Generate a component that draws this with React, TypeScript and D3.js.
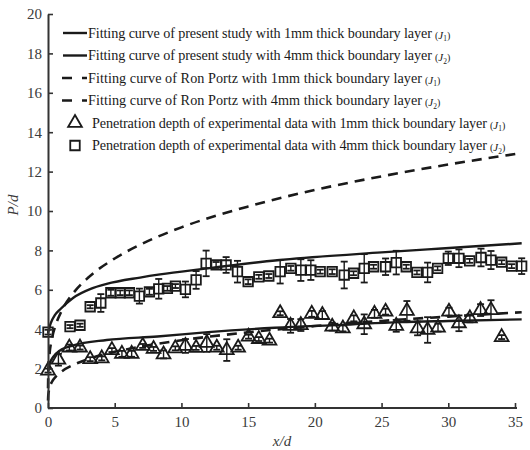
import React, { useEffect, useRef } from "react";
import * as d3 from "d3";

// Axis ticks
const xTicks = [0, 5, 10, 15, 20, 25, 30, 35];
const yTicks = [0, 2, 4, 6, 8, 10, 12, 14, 16, 18, 20];

// Fitting curve, present study, 1 mm boundary layer (J1)
const presentJ1X = [0, 0.15, 0.4, 0.9, 1.9, 4.4, 8.2, 12, 17, 22, 26.4, 30, 35.5];
const presentJ1Y = [1.95, 2.3, 2.6, 2.92, 3.18, 3.45, 3.63, 3.85, 4.07, 4.22, 4.36, 4.42, 4.5];

// Fitting curve, present study, 4 mm boundary layer (J2)
const presentJ2X = [0, 0.2, 0.5, 0.9, 1.9, 3.2, 4.4, 6.9, 8.4, 11.5, 17.2, 25, 29.5, 35.5];
const presentJ2Y = [3.8, 4.3, 4.7, 5.0, 5.6, 6.05, 6.3, 6.62, 6.78, 7.05, 7.5, 7.9, 8.1, 8.36];

// Fitting curve, Ron Portz, 1 mm boundary layer (J1)
const portzJ1X = [0.003, 0.02, 0.1, 0.3, 0.6, 1, 2, 3, 5, 7, 10, 15, 20, 25, 30, 35.5];
const portzJ1Y = [0.38, 0.64, 0.98, 1.33, 1.6, 1.84, 2.22, 2.48, 2.85, 3.12, 3.44, 3.84, 4.16, 4.42, 4.64, 4.86];

// Fitting curve, Ron Portz, 4 mm boundary layer (J2)
const portzJ2X = [0.003, 0.02, 0.1, 0.3, 0.6, 1, 2, 3, 5, 7, 10, 15, 20, 25, 30, 35.5];
const portzJ2Y = [1.0, 1.7, 2.62, 3.53, 4.26, 4.9, 5.92, 6.61, 7.59, 8.32, 9.17, 10.23, 11.07, 11.76, 12.36, 12.94];

// Experimental penetration depth, 1 mm boundary layer (J1)
const expJ1X = [0, 0.78, 1.6, 2.4, 3.16, 4.03, 4.79, 5.54, 6.27, 7.1, 7.91, 8.66, 9.54, 10.3, 11.1, 11.9, 12.65, 13.4, 14.25, 15.03, 15.8, 16.6, 17.4, 18.18, 18.95, 19.77, 20.56, 21.3, 22.1, 22.92, 23.7, 24.47, 25.3, 26.1, 26.9, 27.7, 28.45, 29.23, 30.05, 30.8, 31.62, 32.42, 33.2, 34.0];
const expJ1Y = [1.9, 2.45, 3.07, 3.07, 2.48, 2.52, 2.94, 2.75, 2.75, 3.15, 3.0, 2.72, 3.03, 3.15, 3.05, 3.3, 3.06, 2.94, 3.06, 3.62, 3.5, 3.42, 4.81, 4.17, 4.21, 4.78, 4.72, 4.13, 4.04, 4.55, 4.25, 4.78, 4.89, 4.17, 4.93, 4.04, 3.96, 4.08, 4.89, 4.3, 4.55, 4.97, 4.97, 3.6];
const expJ1Err = [0.1, 0.3, 0.15, 0.1, 0.1, 0.1, 0.1, 0.15, 0.15, 0.1, 0.1, 0.2, 0.1, 0.35, 0.1, 0.45, 0.1, 0.55, 0.1, 0.1, 0.1, 0.1, 0.1, 0.35, 0.3, 0.15, 0.2, 0.2, 0.15, 0.15, 0.5, 0.2, 0.15, 0.3, 0.5, 0.35, 0.65, 0.2, 0.2, 0.4, 0.2, 0.3, 0.5, 0.1];

// Experimental penetration depth, 4 mm boundary layer (J2)
const expJ2X = [0, 1.65, 2.4, 3.16, 3.96, 4.71, 5.41, 6.1, 6.85, 7.6, 8.3, 8.95, 9.55, 10.3, 11.1, 11.85, 12.6, 13.35, 14.2, 15.0, 15.8, 16.55, 17.4, 18.2, 18.95, 19.7, 20.4, 21.3, 22.2, 22.9, 23.7, 24.4, 25.3, 26.1, 26.85, 27.65, 28.45, 29.2, 30.0, 30.8, 31.6, 32.45, 33.2, 34.0, 34.75, 35.5];
const expJ2Y = [3.85, 4.13, 4.2, 5.14, 5.33, 5.85, 5.85, 5.85, 5.68, 5.9, 6.05, 6.07, 6.19, 6.02, 6.5, 7.34, 7.26, 7.26, 6.92, 6.41, 6.66, 6.7, 6.92, 7.09, 7.0, 7.0, 6.92, 6.92, 6.75, 6.84, 7.09, 7.17, 7.17, 7.38, 7.17, 6.88, 6.88, 7.09, 7.6, 7.6, 7.47, 7.64, 7.51, 7.4, 7.2, 7.2];
const expJ2Err = [0.12, 0.08, 0.08, 0.08, 0.45, 0.15, 0.12, 0.12, 0.38, 0.15, 0.5, 0.12, 0.1, 0.4, 0.45, 0.65, 0.15, 0.4, 0.55, 0.12, 0.1, 0.1, 0.6, 0.12, 0.55, 0.5, 0.1, 0.12, 0.68, 0.1, 0.72, 0.1, 0.42, 0.6, 0.1, 0.1, 0.5, 0.1, 0.34, 0.45, 0.1, 0.45, 0.46, 0.1, 0.1, 0.4];

// Legend entries
const legendLabels = [
  "Fitting curve of present study with 1mm thick boundary layer",
  "Fitting curve of present study with 4mm thick boundary layer",
  "Fitting curve of Ron Portz with 1mm thick boundary layer",
  "Fitting curve of Ron Portz with 4mm thick boundary layer",
  "Penetration depth of experimental data with 1mm thick boundary layer",
  "Penetration depth of experimental data with 4mm thick boundary layer",
];
const legendSub = ["1", "2", "1", "2", "1", "2"];
const legendKind = ["solid", "solid", "dash", "dash", "triangle", "square"];
const legendTextEnd = [432, 432, 422, 422, 487, 487];

const W = 530;
const H = 450;
const FONT = "'Liberation Serif', 'Times New Roman', serif";
const INK = "#1a1a1a";
const AXIS = "#333";

export default function App() {
  const xAxisRef = useRef<SVGGElement>(null);
  const yAxisRef = useRef<SVGGElement>(null);

  const x = d3.scaleLinear().domain([0, 35]).range([48, 515]);
  const y = d3.scaleLinear().domain([0, 20]).range([408, 14]);

  useEffect(() => {
    const style = (g: d3.Selection<SVGGElement, unknown, null, undefined>) => {
      g.select(".domain").attr("stroke", AXIS).attr("stroke-width", 2);
      g.selectAll(".tick line").attr("stroke", AXIS).attr("stroke-width", 1.6);
      g.selectAll(".tick text")
        .attr("fill", "#3a3a3a")
        .style("font-family", FONT)
        .style("font-size", "15px");
    };
    if (xAxisRef.current) {
      const g = d3.select(xAxisRef.current);
      g.call(
        d3.axisBottom(x).tickValues(xTicks).tickSize(-5).tickSizeOuter(0).tickPadding(8).tickFormat(d3.format("d"))
      );
      style(g);
      g.select(".domain").attr("d", `M${x(0)},0H${x(35) + 2}`);
    }
    if (yAxisRef.current) {
      const g = d3.select(yAxisRef.current);
      g.call(
        d3.axisLeft(y).tickValues(yTicks).tickSize(-5).tickSizeOuter(0).tickPadding(6).tickFormat(d3.format("d"))
      );
      style(g);
    }
  }, []);

  const line = d3
    .line<[number, number]>()
    .x((d) => x(d[0]))
    .y((d) => y(d[1]))
    .curve(d3.curveMonotoneX);

  const zip = (xs: number[], ys: number[]) => xs.map((v, i) => [v, ys[i]] as [number, number]);

  const tri = d3.symbol().type(d3.symbolTriangle).size(82)();
  const sq = d3.symbol().type(d3.symbolSquare).size(90)();

  const errorBars = (xs: number[], ys: number[], es: number[], key: string) =>
    xs.map((xv, i) => {
      const cx = x(xv);
      const top = y(ys[i] + es[i]);
      const bot = y(ys[i] - es[i]);
      return (
        <g key={`${key}${i}`} stroke={INK} strokeWidth={1.4}>
          <line x1={cx} x2={cx} y1={top} y2={bot} />
          <line x1={cx - 3.5} x2={cx + 3.5} y1={top} y2={top} strokeWidth={1.8} />
          <line x1={cx - 3.5} x2={cx + 3.5} y1={bot} y2={bot} strokeWidth={1.8} />
        </g>
      );
    });

  const rowY = (i: number) => 33 + i * 22.5;

  return (
    <svg
      width={W}
      height={H}
      style={{ position: "absolute", left: 0, top: 0, background: "#fff" }}
      fontFamily={FONT}
    >
      <rect width={W} height={H} fill="#fff" />

      {/* fitted curves */}
      <path d={line(zip(presentJ1X, presentJ1Y)) || ""} fill="none" stroke={INK} strokeWidth={2.4} />
      <path d={line(zip(presentJ2X, presentJ2Y)) || ""} fill="none" stroke={INK} strokeWidth={2.4} />
      <path d={line(zip(portzJ1X, portzJ1Y)) || ""} fill="none" stroke={INK} strokeWidth={2.6} strokeDasharray="10,7" />
      <path d={line(zip(portzJ2X, portzJ2Y)) || ""} fill="none" stroke={INK} strokeWidth={2.6} strokeDasharray="10,7" />

      {/* experimental points with error bars */}
      {errorBars(expJ1X, expJ1Y, expJ1Err, "e1-")}
      {errorBars(expJ2X, expJ2Y, expJ2Err, "e2-")}
      {expJ1X.map((xv, i) => (
        <path
          key={`t${i}`}
          d={tri || ""}
          transform={`translate(${x(xv)},${y(expJ1Y[i])})`}
          fill="none"
          stroke={INK}
          strokeWidth={1.8}
        />
      ))}
      {expJ2X.map((xv, i) => (
        <path
          key={`s${i}`}
          d={sq || ""}
          transform={`translate(${x(xv)},${y(expJ2Y[i])})`}
          fill="none"
          stroke={INK}
          strokeWidth={1.8}
        />
      ))}

      {/* axes */}
      <g ref={xAxisRef} transform={`translate(0,${y(0)})`} />
      <g ref={yAxisRef} transform={`translate(${x(0)},0)`} />

      {/* axis titles */}
      <text x={282} y={446} textAnchor="middle" fontStyle="italic" fontSize={15} fill="#3a3a3a">
        x/d
      </text>
      <text
        transform={`translate(18,205) rotate(-90)`}
        textAnchor="middle"
        fontStyle="italic"
        fontSize={15}
        fill="#3a3a3a"
      >
        P/d
      </text>

      {/* legend */}
      {legendLabels.map((label, i) => {
        const ry = rowY(i);
        const kind = legendKind[i];
        const isMarker = kind === "triangle" || kind === "square";
        const tx = isMarker ? 92 : 88;
        const tEnd = legendTextEnd[i];
        return (
          <g key={`lg${i}`}>
            {kind === "solid" && (
              <line x1={63} x2={87} y1={ry} y2={ry} stroke={INK} strokeWidth={2.4} />
            )}
            {kind === "dash" && (
              <line x1={62} x2={87} y1={ry} y2={ry} stroke={INK} strokeWidth={2.6} strokeDasharray="10,10" />
            )}
            {kind === "triangle" && (
              <path d={tri || ""} transform={`translate(75,${ry})`} fill="none" stroke={INK} strokeWidth={1.8} />
            )}
            {kind === "square" && (
              <path d={sq || ""} transform={`translate(75,${ry})`} fill="none" stroke={INK} strokeWidth={1.8} />
            )}
            <text
              x={tx}
              y={ry}
              dy="0.35em"
              fontSize={14.2}
              fill={INK}
              textLength={tEnd - tx}
              lengthAdjust="spacing"
            >
              {label}
            </text>
            <text x={tEnd + 3} y={ry} dy="0.35em" fill={INK}>
              <tspan fontSize={10}>(</tspan>
              <tspan fontSize={11} fontStyle="italic">J</tspan>
              <tspan fontSize={7.5} dy={2.5}>{legendSub[i]}</tspan>
              <tspan fontSize={10} dy={-2.5}>)</tspan>
            </text>
          </g>
        );
      })}
    </svg>
  );
}
